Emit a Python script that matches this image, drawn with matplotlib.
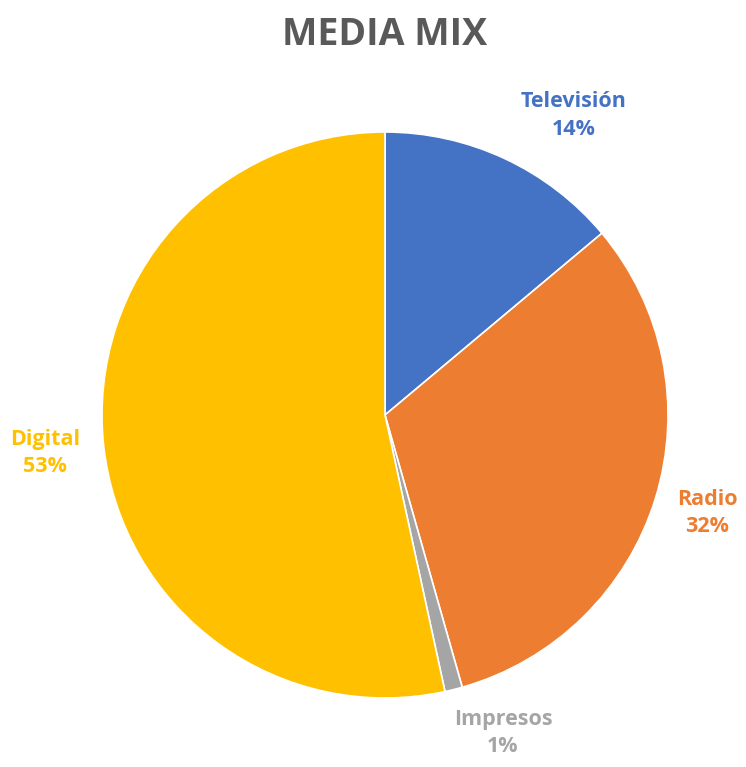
import matplotlib.pyplot as plt

categories = ['Televisión', 'Radio', 'Impresos', 'Digital']
shares = [13.9, 31.7, 1.0, 53.4]
pct_labels = ['14%', '32%', '1%', '53%']
colors = ['#4472C4', '#ED7D31', '#A5A5A5', '#FFC000']

# where the data labels sit, in units of the pie radius (layout, like Excel places them)
label_pos = [(0.668, 1.058), (1.138, -0.346), (0.417, -1.124), (-1.201, -0.134)]

plt.rcParams['font.family'] = ['Open Sans', 'DejaVu Sans']

fig = plt.figure(figsize=(7.46, 7.67), dpi=100)
fig.patch.set_facecolor('white')

cx, cy, r = 385, 415, 283
W, H = 746, 767
ax = fig.add_axes([(cx - r) / W, (H - cy - r) / H, 2 * r / W, 2 * r / H])

wedges, texts = ax.pie(shares, colors=colors, startangle=90, counterclock=False,
                       labels=[c + '\n' + p for c, p in zip(categories, pct_labels)],
                       labeldistance=1.21,
                       wedgeprops=dict(edgecolor='white', linewidth=1.2),
                       textprops=dict(fontsize=15.5, fontweight='bold',
                                      linespacing=1.4))
for t, c, pos in zip(texts, colors, label_pos):
    t.set_color(c)
    t.set_position(pos)
    t.set_horizontalalignment('center')
    t.set_verticalalignment('center')
    t.set_clip_on(False)

ax.set_xlim(-1, 1)
ax.set_ylim(-1, 1)
ax.set_aspect('equal')
ax.axis('off')

fig.text(385 / W, 1 - 35 / H, 'MEDIA MIX', ha='center', va='center',
         fontsize=27, fontweight='bold', color='#595959')

fig.savefig('out.png', dpi=100)
